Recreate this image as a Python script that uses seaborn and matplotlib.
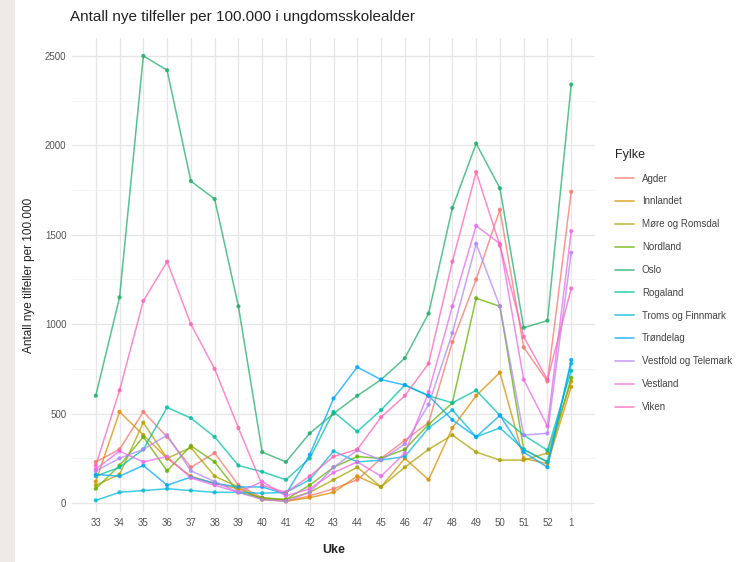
import matplotlib
matplotlib.use("Agg")
import matplotlib.pyplot as plt
import seaborn as sns
import pandas as pd
from matplotlib.patches import Rectangle

# Weekly new cases per 100 000 among lower-secondary-school-age children
weeks = ["33", "34", "35", "36", "37", "38", "39", "40", "41", "42", "43",
         "44", "45", "46", "47", "48", "49", "50", "51", "52", "1"]

agder = [230, 300, 510, 370, 200, 280, 100, 30, 10, 40, 80,
         130, 250, 350, 450, 900, 1250, 1640, 870, 680, 1740]
innlandet = [120, 510, 380, 250, 150, 110, 80, 20, 10, 30, 60,
             150, 90, 250, 130, 420, 600, 730, 250, 220, 650]
more_og_romsdal = [100, 160, 450, 250, 310, 150, 90, 20, 20, 60, 130,
                   200, 90, 200, 300, 380, 285, 240, 240, 280, 680]
nordland = [80, 210, 370, 180, 320, 230, 60, 30, 20, 100, 200,
            260, 250, 300, 440, 560, 1145, 1100, 300, 230, 700]
oslo = [600, 1150, 2500, 2420, 1800, 1700, 1100, 285, 230, 390, 500,
        600, 690, 810, 1060, 1650, 2010, 1760, 980, 1020, 2340]
rogaland = [150, 200, 300, 535, 475, 370, 210, 175, 130, 250, 510,
            400, 520, 660, 600, 560, 630, 490, 380, 295, 740]
troms_og_finnmark = [15, 60, 70, 80, 70, 60, 60, 55, 60, 130, 290,
                     230, 240, 260, 420, 520, 370, 420, 300, 230, 780]
trondelag = [160, 150, 210, 100, 145, 110, 90, 90, 50, 270, 585,
             760, 690, 660, 600, 465, 370, 490, 285, 200, 800]
vestfold_og_telemark = [180, 250, 300, 380, 180, 120, 60, 20, 10, 60, 200,
                        295, 240, 330, 550, 950, 1450, 1100, 380, 390, 1400]
vestland = [190, 290, 230, 260, 140, 100, 60, 120, 40, 80, 170,
            230, 150, 280, 620, 1100, 1550, 1450, 690, 430, 1520]
viken = [210, 630, 1130, 1350, 1000, 750, 420, 100, 60, 150, 260,
         300, 480, 600, 780, 1350, 1850, 1440, 930, 690, 1200]

counties = ["Agder", "Innlandet", "Møre og Romsdal", "Nordland", "Oslo",
            "Rogaland", "Troms og Finnmark", "Trøndelag",
            "Vestfold og Telemark", "Vestland", "Viken"]
series = [agder, innlandet, more_og_romsdal, nordland, oslo, rogaland,
          troms_og_finnmark, trondelag, vestfold_og_telemark, vestland, viken]

rows = []
for name, vals in zip(counties, series):
    for i, (w, v) in enumerate(zip(weeks, vals)):
        rows.append({"Fylke": name, "pos": i, "Uke": w, "value": v})
df = pd.DataFrame(rows)

palette = ["#F8766D", "#DB8E00", "#AEA200", "#64B200", "#1FAF6A", "#00C1A7",
           "#00BADE", "#00A6FF", "#B385FF", "#EF67EB", "#FF63B6"]

sns.set_theme(style="white")
plt.rcParams["font.family"] = ["Liberation Sans", "DejaVu Sans"]

fig = plt.figure(figsize=(7.48, 5.62), dpi=100)
fig.patch.set_facecolor("white")
# light strip down the left edge
fig.add_artist(Rectangle((0, 0), 15 / 748, 1, transform=fig.transFigure,
                         facecolor="#eeebe6", edgecolor="none", zorder=0))

ax = fig.add_axes([72 / 748, 50 / 562, (595 - 72) / 748, (512 - 38) / 562])
ax.set_facecolor("white")

sns.lineplot(data=df, x="pos", y="value", hue="Fylke", hue_order=counties,
             palette=palette, linewidth=1.1, alpha=0.75, ax=ax, legend=True,
             zorder=3)
sns.scatterplot(data=df, x="pos", y="value", hue="Fylke", hue_order=counties,
                palette=palette, s=9, linewidth=0, alpha=0.85, ax=ax,
                legend=False, zorder=4)

ax.set_xlim(-1, 21)
ax.set_ylim(-50, 2600)
ax.set_xticks(range(len(weeks)))
ax.set_xticklabels(weeks)
ax.set_yticks([0, 500, 1000, 1500, 2000, 2500])
ax.set_yticks([250, 750, 1250, 1750, 2250], minor=True)

ax.grid(True, which="major", color="#e6e6e6", linewidth=0.9, zorder=0)
ax.grid(True, which="minor", axis="y", color="#f2f2f2", linewidth=0.6, zorder=0)
for s in ax.spines.values():
    s.set_visible(False)
ax.tick_params(axis="both", which="both", length=0, labelsize=7,
               labelcolor="#555555", pad=4)

ax.set_xlabel("Uke", fontsize=9, color="#222222", labelpad=12,
              fontweight="bold")
ax.set_ylabel("Antall nye tilfeller per 100.000", fontsize=8.5,
              color="#222222", labelpad=7)
fig.text(70 / 748, 1 - 17 / 562,
         "Antall nye tilfeller per 100.000 i ungdomsskolealder",
         fontsize=11, color="#222222", va="center", ha="left")

handles, labels = ax.get_legend_handles_labels()
leg = ax.legend(handles, labels, title="Fylke", loc="upper left",
                bbox_to_anchor=(606 / 748, 1 - 140 / 562),
                bbox_transform=fig.transFigure, frameon=False, fontsize=7,
                title_fontsize=9, handlelength=2.0, labelspacing=1.32,
                alignment="left")
for line in leg.get_lines():
    line.set_linewidth(1.2)
for t in leg.get_texts():
    t.set_color("#444444")
leg.get_title().set_color("#222222")

fig.savefig("out.png", dpi=100)
